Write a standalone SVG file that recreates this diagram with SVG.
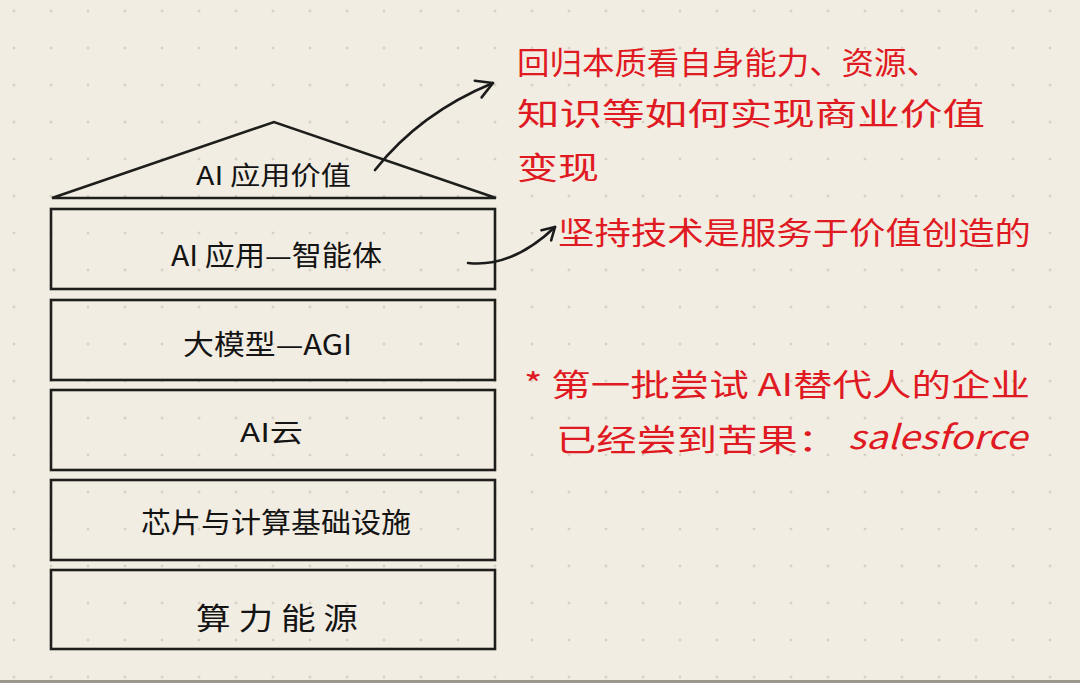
<svg xmlns="http://www.w3.org/2000/svg" width="1080" height="683" viewBox="0 0 1080 683">
<defs>
<pattern id="dots" patternUnits="userSpaceOnUse" x="-4.5" y="-7.5" width="37" height="37">
<circle cx="18.5" cy="18.5" r="1.1" fill="#bdb7aa"/>
</pattern>
<marker id="arrowOpen" markerUnits="userSpaceOnUse" viewBox="-20 -15 30 30" markerWidth="30" markerHeight="30" refX="0" refY="0" orient="auto">
<path d="M-16,-9 L0,0 L-16,9" fill="none" stroke="#1b1b1b" stroke-width="2.6" stroke-linecap="round" stroke-linejoin="round"/>
</marker>
<marker id="arrowSmall" markerUnits="userSpaceOnUse" viewBox="-20 -15 30 30" markerWidth="30" markerHeight="30" refX="0" refY="0" orient="auto">
<path d="M-12,-7 L0,0 L-12,7" fill="none" stroke="#1b1b1b" stroke-width="2.6" stroke-linecap="round" stroke-linejoin="round"/>
</marker>
</defs>
<style>
.box{fill:none;stroke:#1e1e1c;stroke-width:2.6}
.lbl{font-family:"Noto Sans CJK SC","Liberation Sans",sans-serif;fill:#141414;font-weight:400}
.note{font-family:"Noto Sans CJK SC","Liberation Sans",sans-serif;fill:#e01a22;font-weight:400}
.conn{fill:none;stroke:#1b1b1b;stroke-width:2.6;stroke-linecap:round}
</style>
<rect width="1080" height="683" fill="#f2ede2"/>
<rect width="1080" height="683" fill="url(#dots)"/>
<rect x="0" y="680" width="1080" height="3" fill="#9b978f"/>

<g id="roof">
<polygon class="box" points="52,198 274,122 496,198" stroke-linejoin="miter"/>
<text class="lbl" x="196" y="185" font-size="26" textLength="155" lengthAdjust="spacingAndGlyphs">AI 应用价值</text>
</g>
<g id="layer-agent">
<rect class="box" x="51" y="209" width="444" height="80"/>
<text class="lbl" x="171" y="266" font-size="28" textLength="211" lengthAdjust="spacingAndGlyphs">AI 应用—智能体</text>
</g>
<g id="layer-llm">
<rect class="box" x="51" y="300" width="444" height="80"/>
<text class="lbl" x="183" y="355" font-size="28" textLength="169" lengthAdjust="spacingAndGlyphs">大模型—AGI</text>
</g>
<g id="layer-cloud">
<rect class="box" x="51" y="390" width="444" height="80"/>
<text class="lbl" x="240" y="442" font-size="26" textLength="63" lengthAdjust="spacingAndGlyphs">AI云</text>
</g>
<g id="layer-chips">
<rect class="box" x="51" y="480" width="444" height="80"/>
<text class="lbl" x="141" y="533" font-size="28" textLength="270" lengthAdjust="spacingAndGlyphs">芯片与计算基础设施</text>
</g>
<g id="layer-energy">
<rect class="box" x="51" y="570" width="444" height="79"/>
<text class="lbl" x="196" y="629" font-size="30" textLength="162" lengthAdjust="spacingAndGlyphs">算 力 能 源</text>
</g>

<g id="note-value">
<text class="note" x="517" y="74" font-size="31" textLength="422" lengthAdjust="spacingAndGlyphs">回归本质看自身能力、资源、</text>
<text class="note" x="517" y="125" font-size="31" textLength="468" lengthAdjust="spacingAndGlyphs">知识等如何实现商业价值</text>
<text class="note" x="517" y="179" font-size="31" textLength="82" lengthAdjust="spacingAndGlyphs">变现</text>
</g>
<g id="note-tech">
<text class="note" x="558" y="244" font-size="31" textLength="473" lengthAdjust="spacingAndGlyphs">坚持技术是服务于价值创造的</text>
</g>
<g id="note-salesforce">
<text class="note" x="524" y="396" font-size="31" textLength="506" lengthAdjust="spacingAndGlyphs">* 第一批尝试 AI替代人的企业</text>
<text class="note" x="556" y="451" font-size="31" textLength="282" lengthAdjust="spacingAndGlyphs">已经尝到苦果：</text>
<text class="note" x="848" y="449" font-size="33" font-style="italic" font-family="Liberation Sans, sans-serif" textLength="179" lengthAdjust="spacingAndGlyphs">salesforce</text>
</g>

<g id="connectors">
<path class="conn" d="M375,170 Q420,113 493,83" marker-end="url(#arrowOpen)"/>
<path class="conn" d="M468,263 Q512,268 555,227" marker-end="url(#arrowSmall)"/>
</g>
</svg>
